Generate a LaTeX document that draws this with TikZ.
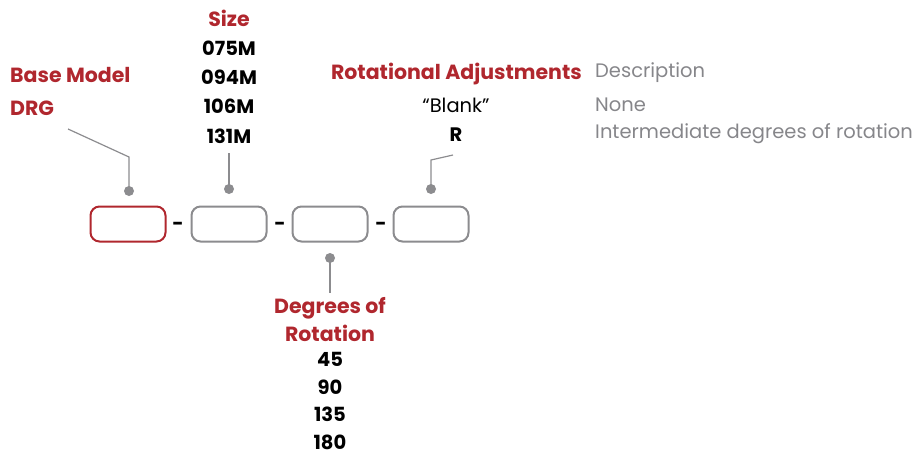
\documentclass[tikz,border=0pt]{standalone}
\usepackage{fontspec}
\setmainfont{Poppins}
\definecolor{codered}{HTML}{B0272E}
\definecolor{codegrey}{HTML}{8C8C8F}
\definecolor{descgrey}{HTML}{86868A}
\begin{document}
\begin{tikzpicture}[x=1pt, y=-1pt,
    field/.style={draw=codegrey, line width=2pt, rounded corners=9pt, minimum width=75pt, minimum height=35pt},
    pin/.style={circle, fill=codegrey, inner sep=0pt, minimum size=10pt},
    lead/.style={codegrey, line width=1.2pt},
    head/.style={text=codered, font=\fontsize{20.5}{22}\selectfont\bfseries, inner sep=0pt},
    opt/.style={font=\fontsize{19.5}{22}\selectfont\bfseries, inner sep=0pt},
    desc/.style={text=descgrey, font=\fontsize{19.5}{22}\selectfont, inner sep=0pt, anchor=west}]
  \useasboundingbox (0,0) rectangle (914,455);

  % Campos do codigo
  \node[field, draw=codered] (f1) at (128,224) {};
  \node[field] (f2) at (229,224) {};
  \node[field] (f3) at (330,224) {};
  \node[field] (f4) at (431,224) {};
  \node[opt] (s1) at (178,226) {-};
  \node[opt] (s2) at (280,226) {-};
  \node[opt] (s3) at (381,226) {-};

  % Pontos de ligacao
  \node[pin] (p1) at (129,191) {};
  \node[pin] (p2) at (229,189) {};
  \node[pin] (p3) at (330,258) {};
  \node[pin] (p4) at (431,189) {};

  % Base Model
  \node[head, anchor=west] (base) at (10,75) {Base Model};
  \node[head, anchor=west] (drg) at (10,108) {DRG};
  \coordinate (k1) at (129,157);
  \coordinate (e1) at (68,129);
  \draw[lead] (p1.center) -- (k1) -- (e1);

  % Size
  \node[head] (size) at (229,18) {Size};
  \node[opt] (z1) at (229,48) {075M};
  \node[opt] (z2) at (229,77) {094M};
  \node[opt] (z3) at (229,106) {106M};
  \node[opt] (z4) at (229,136) {131M};
  \coordinate (e2) at (229,153);
  \draw[lead] (p2.center) -- (e2);

  % Degrees of Rotation
  \node[head] (deg) at (330,308) {Degrees of};
  \node[head] (rot) at (330,333) {Rotation};
  \node[opt] (r1) at (330,359) {45};
  \node[opt] (r2) at (330,387) {90};
  \node[opt] (r3) at (330,414) {135};
  \node[opt] (r4) at (330,442) {180};
  \coordinate (e3) at (330,293);
  \draw[lead] (p3.center) -- (e3);

  % Rotational Adjustments
  \node[head, anchor=east] (adj) at (582,74) {Rotational Adjustments};
  \node[opt, font=\fontsize{19.5}{22}\selectfont] (a1) at (456,105) {“Blank”};
  \node[opt] (a2) at (456,135) {R};
  \coordinate (k4) at (431,160);
  \coordinate (e4) at (453,155);
  \draw[lead] (p4.center) -- (k4) -- (e4);

  % Descricao
  \node[desc] (d0) at (595,73) {Description};
  \node[desc] (d1) at (595,105) {None};
  \node[desc] (d2) at (595,134) {Intermediate degrees of rotation};
\end{tikzpicture}
\end{document}
